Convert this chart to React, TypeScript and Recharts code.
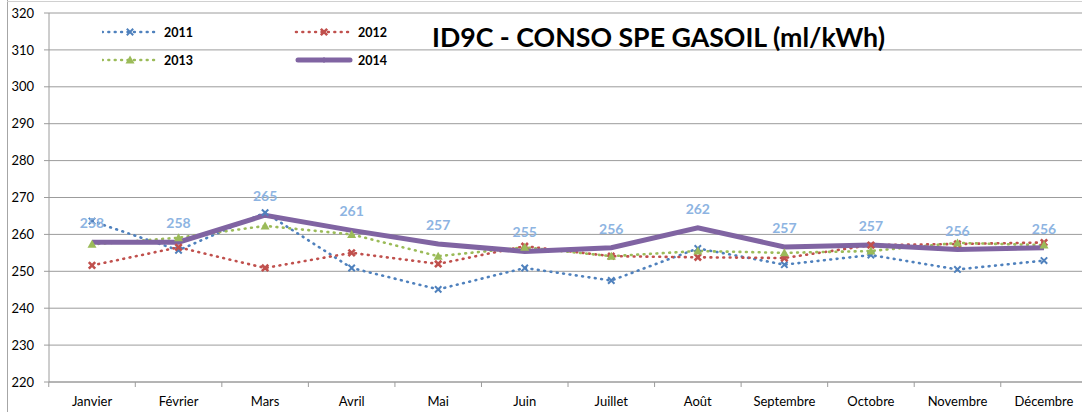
import { LineChart, Line, XAxis, YAxis, CartesianGrid, LabelList } from 'recharts'

const MONTHS = ['Janvier', 'Février', 'Mars', 'Avril', 'Mai', 'Juin', 'Juillet', 'Août', 'Septembre', 'Octobre', 'Novembre', 'Décembre']
const S2011 = [263.6, 255.7, 265.9, 250.9, 245.1, 250.9, 247.5, 256.2, 251.8, 254.4, 250.5, 252.9]
const S2012 = [251.6, 256.5, 250.9, 255.0, 252.0, 256.8, 254.1, 253.8, 253.6, 257.1, 257.4, 257.8]
const S2013 = [257.3, 259.1, 262.3, 260.0, 254.1, 256.5, 254.1, 255.5, 255.0, 255.5, 257.7, 257.1]
const S2014 = [257.9, 257.9, 265.2, 261.1, 257.4, 255.4, 256.4, 261.8, 256.6, 257.1, 255.9, 256.4]
const Y_TICKS = [220, 230, 240, 250, 260, 270, 280, 290, 300, 310, 320]

const BLUE = '#4F81BD'
const RED = '#C0504D'
const GREEN = '#9BBB59'
const PURPLE = '#8064A2'
const LABEL = '#8DB4E2'
const GRID = '#9c9c9c'
const FONT = 'Lato, "Open Sans", sans-serif'
const HALF_BAND = 43.25
const CHART_H = 412
const X_AXIS_H = 30
const AXIS_Y = CHART_H - X_AXIS_H

const rows = MONTHS.map((m, i) => ({
  month: m,
  y2011: S2011[i],
  y2012: S2012[i],
  y2013: S2013[i],
  y2014: S2014[i],
}))

// excel style markers
function xMark(cx: number, cy: number, color: string, w: number, key?: string) {
  const s = 3.2
  return (
    <path
      key={key}
      d={`M${cx - s},${cy - s}L${cx + s},${cy + s}M${cx + s},${cy - s}L${cx - s},${cy + s}`}
      stroke={color}
      strokeWidth={w}
      fill="none"
    />
  )
}

function triMark(cx: number, cy: number, color: string, key?: string) {
  return <path key={key} d={`M${cx},${cy - 4.5}L${cx + 4.5},${cy + 3.5}L${cx - 4.5},${cy + 3.5}Z`} fill={color} />
}

const dot2011 = (p: any) => xMark(p.cx, p.cy, BLUE, 2, `b${p.index}`)
const dot2012 = (p: any) => xMark(p.cx, p.cy, RED, 2.6, `r${p.index}`)
const dot2013 = (p: any) => triMark(p.cx, p.cy, GREEN, `g${p.index}`)

// month label + tick mark on the category boundaries (like excel)
function MonthTick(props: any) {
  const { x, payload, index } = props
  return (
    <g>
      <line x1={x - HALF_BAND} y1={AXIS_Y} x2={x - HALF_BAND} y2={AXIS_Y + 5} stroke={GRID} />
      {index === MONTHS.length - 1 && (
        <line x1={x + HALF_BAND} y1={AXIS_Y} x2={x + HALF_BAND} y2={AXIS_Y + 5} stroke={GRID} />
      )}
      <text x={x} y={AXIS_Y + 15} dy="0.71em" textAnchor="middle" fill="#000" fontSize={13} fontFamily={FONT}>
        {payload.value}
      </text>
    </g>
  )
}

const LEGEND_ITEMS = [
  { name: '2011', color: BLUE, kind: 'x' },
  { name: '2012', color: RED, kind: 'x' },
  { name: '2013', color: GREEN, kind: 'tri' },
  { name: '2014', color: PURPLE, kind: 'solid' },
]

function ChartLegend() {
  return (
    <svg style={{ position: 'absolute', left: 102, top: 20 }} width={320} height={50}>
      {LEGEND_ITEMS.map((it, i) => {
        const x = (i % 2) * 194
        const y = 12 + Math.floor(i / 2) * 28
        return (
          <g key={it.name}>
            {it.kind === 'solid' ? (
              <>
                <line x1={x + 2} y1={y} x2={x + 54} y2={y} stroke={it.color} strokeWidth={5} strokeLinecap="round" />
                <line x1={x + 28} y1={y - 3} x2={x + 28} y2={y + 3} stroke={it.color} strokeWidth={1} />
              </>
            ) : (
              <>
                <line x1={x} y1={y} x2={x + 56} y2={y} stroke={it.color} strokeWidth={2.6} strokeDasharray="0.8 5.6" strokeLinecap="round" />
                {it.kind === 'x' ? xMark(x + 28, y, it.color, it.color === RED ? 2.6 : 2) : triMark(x + 28, y, it.color)}
              </>
            )}
            <text x={x + 62} y={y + 4.5} fontSize={12.5} fontWeight="bold" fill="#000" fontFamily={FONT}>
              {it.name}
            </text>
          </g>
        )
      })}
    </svg>
  )
}

export default function App() {
  return (
    <div style={{ position: 'fixed', left: 0, top: 0, width: 1082, height: 412, overflow: 'hidden', background: '#fff', fontFamily: FONT }}>
      <div style={{ position: 'absolute', left: 7, top: 0, width: 1, height: 412, background: '#a6a6a6' }} />
      <div style={{ position: 'absolute', left: 7, top: 1, width: 1075, height: 1, background: '#d0d0d0' }} />
      <div style={{ position: 'absolute', left: 0, top: 0 }}>
        <LineChart width={1087} height={CHART_H} data={rows} margin={{ top: 13, right: 0, bottom: 0, left: 0 }}>
          <CartesianGrid vertical={false} stroke={GRID} />
          <XAxis
            dataKey="month"
            height={X_AXIS_H}
            interval={0}
            padding={{ left: 43, right: 43 }}
            tickLine={false}
            stroke={GRID}
            tick={<MonthTick />}
          />
          <YAxis
            domain={[220, 320]}
            ticks={Y_TICKS}
            width={49}
            tickSize={5}
            tickMargin={10}
            stroke={GRID}
            tick={{ fill: '#000', fontSize: 13, fontFamily: FONT }}
          />
          <Line dataKey="y2011" name="2011" stroke={BLUE} strokeWidth={2.6} strokeDasharray="0.8 5.6" strokeLinecap="round" dot={dot2011} isAnimationActive={false} />
          <Line dataKey="y2012" name="2012" stroke={RED} strokeWidth={2.6} strokeDasharray="0.8 5.6" strokeLinecap="round" dot={dot2012} isAnimationActive={false} />
          <Line dataKey="y2013" name="2013" stroke={GREEN} strokeWidth={2.6} strokeDasharray="0.8 5.6" strokeLinecap="round" dot={dot2013} isAnimationActive={false} />
          <Line dataKey="y2014" name="2014" stroke={PURPLE} strokeWidth={5} dot={false} isAnimationActive={false}>
            <LabelList
              dataKey="y2014"
              position="top"
              offset={14}
              fill={LABEL}
              fontSize={14}
              fontWeight="bold"
              fontFamily={FONT}
              formatter={(v: any) => Math.round(Number(v))}
            />
          </Line>
        </LineChart>
      </div>
      <ChartLegend />
      <svg style={{ position: 'absolute', left: 0, top: 0 }} width={1082} height={70}>
        <text x={432} y={47} fontSize={27} fontWeight="bold" fill="#000" fontFamily={FONT} textLength={453} lengthAdjust="spacingAndGlyphs">
          ID9C - CONSO SPE GASOIL (ml/kWh)
        </text>
      </svg>
    </div>
  )
}
